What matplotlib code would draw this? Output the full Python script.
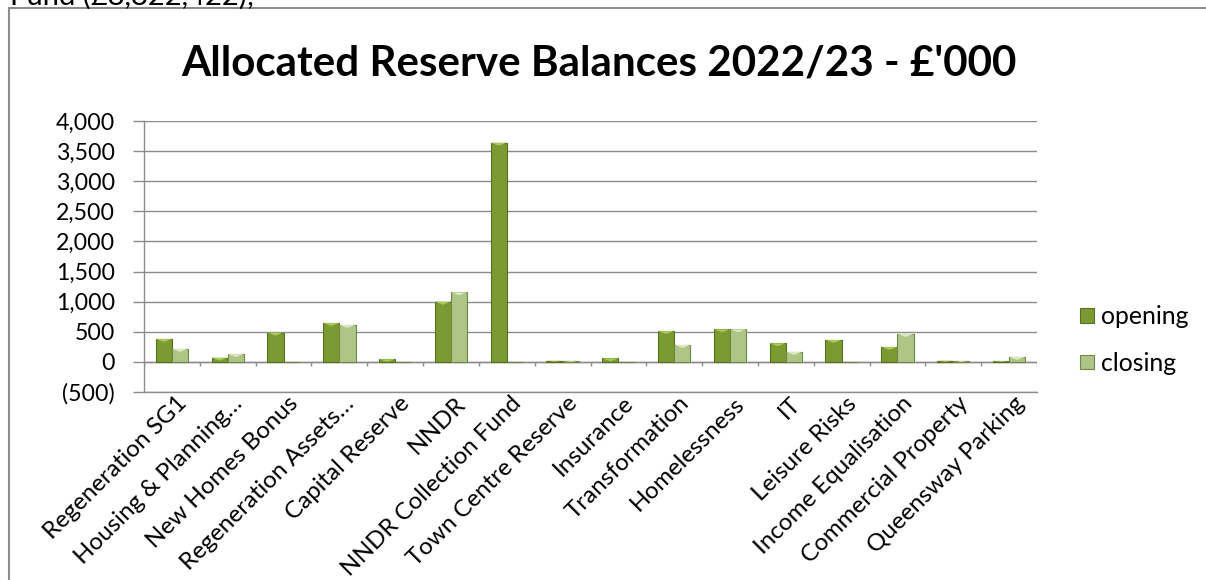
import matplotlib
matplotlib.use('Agg')
import matplotlib.pyplot as plt
from matplotlib.patches import Rectangle, Polygon
from matplotlib.ticker import FuncFormatter, MultipleLocator
from matplotlib.transforms import ScaledTranslation
import numpy as np

categories = ['Regeneration SG1', 'Housing & Planning…', 'New Homes Bonus',
              'Regeneration Assets…', 'Capital Reserve', 'NNDR',
              'NNDR Collection Fund', 'Town Centre Reserve', 'Insurance',
              'Transformation', 'Homelessness', 'IT', 'Leisure Risks',
              'Income Equalisation', 'Commercial Property',
              'Queensway Parking']
opening = [382, 70, 486, 647, 45, 1000, 3640, 20, 60, 514, 542, 310, 365,
           249, 20, 15]
closing = [216, 130, 0, 614, 0, 1157, 0, 20, 0, 282, 542, 166, 0, 465, 20,
           83]
series_names = ['opening', 'closing']

title = "Allocated Reserve Balances 2022/23 - £'000"
above_text = 'Fund (£8,822,422);'

plt.rcParams['font.family'] = ['Lato', 'DejaVu Sans']

W, H = 1206, 580
fig = plt.figure(figsize=(W / 100, H / 100), dpi=100)
ax = fig.add_axes([144 / W, 1 - 392 / H, (1037 - 144) / W, (392 - 121) / H])

grey = '#8c8c8c'
styles = {
    'opening': dict(face='#7b9a32', edge='#56701f', top='#a9ca5c'),
    'closing': dict(face='#afc585', edge='#6f8748', top='#dde9c2'),
}
fs = 16.7

x = np.arange(len(categories))
bw = 0.29
tri_depth = 50  # depth of the bevel triangle on top of each bar, data units

for name, vals, off in [('opening', opening, -bw / 2),
                        ('closing', closing, bw / 2)]:
    st = styles[name]
    bars = ax.bar(x + off, vals, width=bw, color=st['face'],
                  edgecolor=st['edge'], linewidth=0.8, zorder=3, label=name)
    for b in bars:
        h = b.get_height()
        if h <= 0:
            continue
        x0 = b.get_x()
        x1 = x0 + b.get_width()
        d = min(tri_depth, h)
        ax.add_patch(Polygon([[x0, h], [x1, h], [(x0 + x1) / 2, h - d]],
                             closed=True, facecolor=st['top'],
                             edgecolor='none', zorder=4))

ax.set_xlim(-0.5, len(categories) - 0.5)
ax.set_ylim(-500, 4000)
ax.yaxis.set_major_locator(MultipleLocator(500))


def fmt(v, pos):
    if v < 0:
        return '({:,.0f})'.format(-v)
    return '{:,.0f}'.format(v)


ax.yaxis.set_major_formatter(FuncFormatter(fmt))
ax.yaxis.grid(True, color=grey, linewidth=1.0, zorder=0)
ax.set_axisbelow(True)

for s in ['top', 'right']:
    ax.spines[s].set_visible(False)
ax.spines['left'].set_color(grey)
ax.spines['bottom'].set_color(grey)
ax.spines['left'].set_linewidth(1.0)
ax.spines['bottom'].set_linewidth(1.0)

# zero line with category tick marks hanging below it
ax.axhline(0, color=grey, linewidth=1.0, zorder=2)
bounds = np.arange(len(categories) + 1) - 0.5
ax.vlines(bounds, -66, 0, color=grey, linewidth=1.0, zorder=2)

ax.tick_params(axis='y', length=8, width=1.0, color=grey, pad=13,
               labelsize=fs)
ax.set_xticks(x)
ax.set_xticklabels(categories, rotation=45, ha='right', va='top',
                   rotation_mode='anchor', fontsize=17.4)
ax.tick_params(axis='x', length=0, pad=0.5)
# excel puts the top-right corner of each label a little right of centre
shift = ScaledTranslation(4 / 100, 0, fig.dpi_scale_trans)
for lab in ax.get_xticklabels():
    lab.set_transform(lab.get_transform() + shift)

fig.text(599 / W, 1 - 75 / H, title, ha='center', va='baseline',
         fontsize=30.3, fontweight='bold')
fig.text(10 / W, 1 - 5 / H, above_text, ha='left', va='baseline',
         fontsize=21)

# chart border (extends past the right and bottom of the picture)
fig.add_artist(Rectangle((9 / W, -0.1), 1.2, 1.1 - 8 / H,
                         transform=fig.transFigure, fill=False,
                         edgecolor=grey, linewidth=1.5))

handles = [Rectangle((0, 0), 1, 1, facecolor=styles[n]['face'],
                     edgecolor=styles[n]['edge'], linewidth=0.8)
           for n in series_names]
fig.legend(handles, series_names, loc='center left',
           bbox_to_anchor=(1058 / W, 1 - 340 / H), frameon=False,
           fontsize=17.8, handlelength=0.55, handleheight=0.55,
           handletextpad=0.3, labelspacing=0.95)

fig.savefig('out.png', dpi=100)
